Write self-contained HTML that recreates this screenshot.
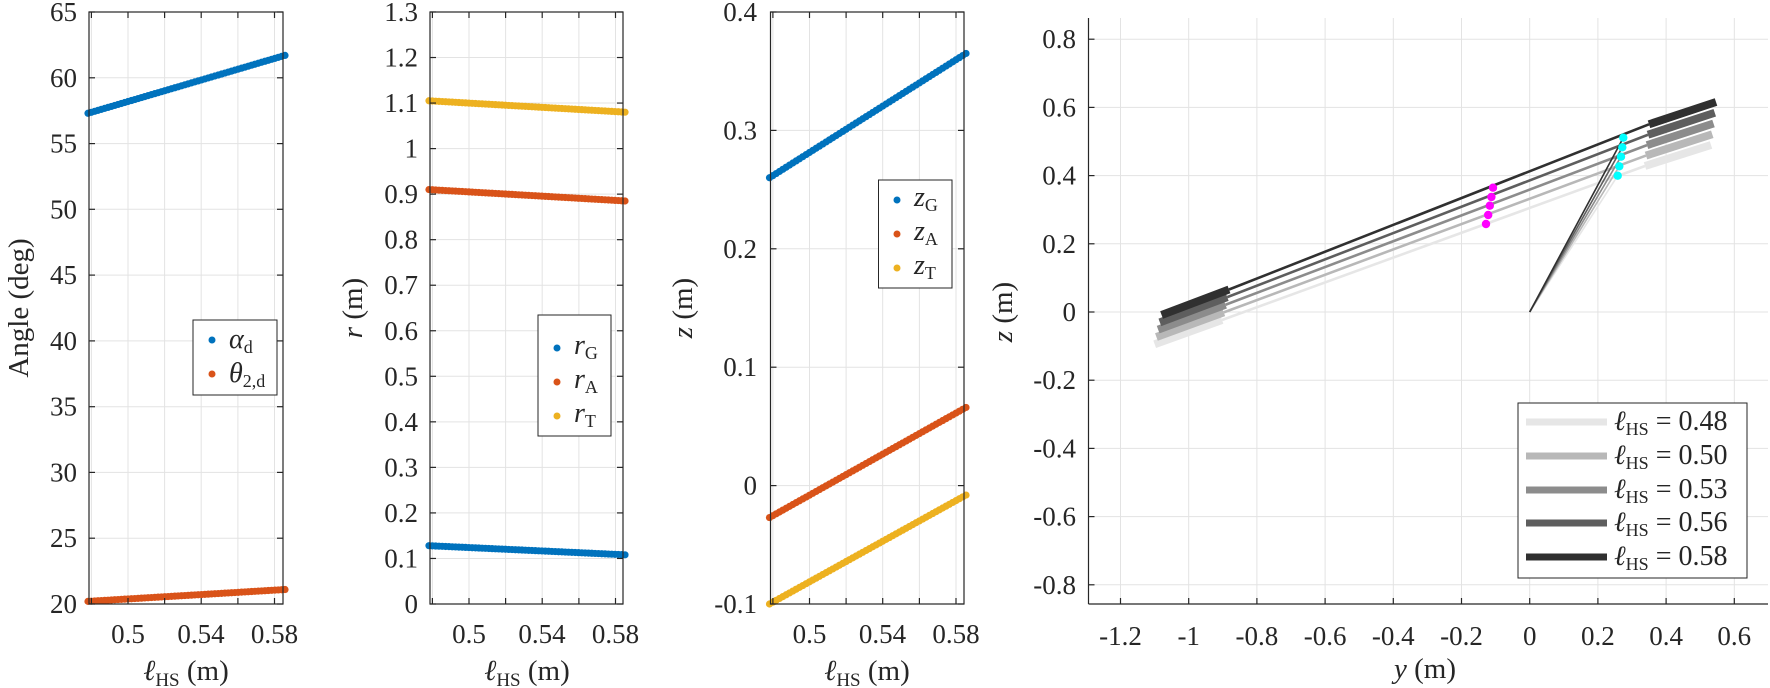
<!DOCTYPE html>
<html><head><meta charset="utf-8"><style>
html,body{margin:0;padding:0;background:#fff;}
svg{display:block;}
svg text, svg tspan{font-family:"Liberation Serif","DejaVu Serif","Times New Roman",serif !important;fill:#262626;}
</style></head><body>
<svg id="s" width="1770" height="688" viewBox="0 0 1770 688" xmlns="http://www.w3.org/2000/svg" font-family="Liberation Serif, DejaVu Serif, serif">
<g id="grid"></g>
<g id="data"></g>
<g id="axes" stroke="#262626" stroke-width="1.2" fill="none"></g>
<g font-size="27" text-anchor="end" dominant-baseline="central">
<text x="77" y="12">65</text><text x="77" y="77.8">60</text><text x="77" y="143.6">55</text><text x="77" y="209.3">50</text><text x="77" y="275.1">45</text><text x="77" y="340.9">40</text><text x="77" y="406.7">35</text><text x="77" y="472.4">30</text><text x="77" y="538.2">25</text><text x="77" y="604">20</text>
<text x="418" y="12">1.3</text><text x="418" y="57.5">1.2</text><text x="418" y="103.1">1.1</text><text x="418" y="148.6">1</text><text x="418" y="194.2">0.9</text><text x="418" y="239.7">0.8</text><text x="418" y="285.2">0.7</text><text x="418" y="330.8">0.6</text><text x="418" y="376.3">0.5</text><text x="418" y="421.8">0.4</text><text x="418" y="467.4">0.3</text><text x="418" y="512.9">0.2</text><text x="418" y="558.5">0.1</text><text x="418" y="604">0</text>
<text x="757" y="12">0.4</text><text x="757" y="130.4">0.3</text><text x="757" y="248.8">0.2</text><text x="757" y="367.2">0.1</text><text x="757" y="485.6">0</text><text x="757" y="604">-0.1</text>
<text x="1076" y="39.2">0.8</text><text x="1076" y="107.4">0.6</text><text x="1076" y="175.6">0.4</text><text x="1076" y="243.8">0.2</text><text x="1076" y="312">0</text><text x="1076" y="380.2">-0.2</text><text x="1076" y="448.4">-0.4</text><text x="1076" y="516.6">-0.6</text><text x="1076" y="584.8">-0.8</text>
</g>
<g font-size="27" text-anchor="middle" dominant-baseline="central">
<text x="128" y="634">0.5</text><text x="201" y="634">0.54</text><text x="274.5" y="634">0.58</text>
<text x="469" y="634">0.5</text><text x="542" y="634">0.54</text><text x="615.5" y="634">0.58</text>
<text x="809.5" y="634">0.5</text><text x="882.5" y="634">0.54</text><text x="956" y="634">0.58</text>
<text x="1120.5" y="636">-1.2</text><text x="1188.7" y="636">-1</text><text x="1256.9" y="636">-0.8</text><text x="1325.1" y="636">-0.6</text><text x="1393.3" y="636">-0.4</text><text x="1461.5" y="636">-0.2</text><text x="1529.7" y="636">0</text><text x="1597.9" y="636">0.2</text><text x="1666.1" y="636">0.4</text><text x="1734.3" y="636">0.6</text>
</g>
<g font-size="29" text-anchor="middle">
<text x="186" y="680"><tspan font-style="italic">ℓ</tspan><tspan font-size="19" dy="6">HS</tspan><tspan dy="-6"> (m)</tspan></text>
<text x="527" y="680"><tspan font-style="italic">ℓ</tspan><tspan font-size="19" dy="6">HS</tspan><tspan dy="-6"> (m)</tspan></text>
<text x="867" y="680"><tspan font-style="italic">ℓ</tspan><tspan font-size="19" dy="6">HS</tspan><tspan dy="-6"> (m)</tspan></text>
<text x="1425" y="678"><tspan font-style="italic">y</tspan> (m)</text>
<text transform="translate(28,308) rotate(-90)">Angle (deg)</text>
<text transform="translate(362,308) rotate(-90)"><tspan font-style="italic">r</tspan> (m)</text>
<text transform="translate(692,308) rotate(-90)"><tspan font-style="italic">z</tspan> (m)</text>
<text transform="translate(1012,312) rotate(-90)"><tspan font-style="italic">z</tspan> (m)</text>
</g>
<g font-size="28">
<rect x="193" y="320" width="84" height="75" fill="#fff" stroke="#262626" stroke-width="1"/>
<circle cx="212" cy="340" r="3.5" fill="#0072BD"/><circle cx="212" cy="374" r="3.5" fill="#D95319"/>
<text x="229" y="348"><tspan font-style="italic">α</tspan><tspan font-size="18" dy="5">d</tspan></text>
<text x="229" y="382"><tspan font-style="italic">θ</tspan><tspan font-size="18" dy="5">2,d</tspan></text>

<rect x="538" y="315" width="73" height="121" fill="#fff" stroke="#262626" stroke-width="1"/>
<circle cx="557" cy="348" r="3.5" fill="#0072BD"/><circle cx="557" cy="382" r="3.5" fill="#D95319"/><circle cx="557" cy="416" r="3.5" fill="#EDB120"/>
<text x="574" y="354"><tspan font-style="italic">r</tspan><tspan font-size="18" dy="5">G</tspan></text>
<text x="574" y="388"><tspan font-style="italic">r</tspan><tspan font-size="18" dy="5">A</tspan></text>
<text x="574" y="422"><tspan font-style="italic">r</tspan><tspan font-size="18" dy="5">T</tspan></text>

<rect x="878.5" y="180" width="73.5" height="108" fill="#fff" stroke="#262626" stroke-width="1"/>
<circle cx="897" cy="200" r="3.5" fill="#0072BD"/><circle cx="897" cy="234" r="3.5" fill="#D95319"/><circle cx="897" cy="268" r="3.5" fill="#EDB120"/>
<text x="914" y="206"><tspan font-style="italic">z</tspan><tspan font-size="18" dy="5">G</tspan></text>
<text x="914" y="240"><tspan font-style="italic">z</tspan><tspan font-size="18" dy="5">A</tspan></text>
<text x="914" y="274"><tspan font-style="italic">z</tspan><tspan font-size="18" dy="5">T</tspan></text>

<rect x="1518" y="403" width="229" height="175" fill="#fff" stroke="#262626" stroke-width="1"/>
<line x1="1526" x2="1607" y1="422" y2="422" stroke="#e6e6e6" stroke-width="7"/>
<line x1="1526" x2="1607" y1="456" y2="456" stroke="#b8b8b8" stroke-width="7"/>
<line x1="1526" x2="1607" y1="490" y2="490" stroke="#8c8c8c" stroke-width="7"/>
<line x1="1526" x2="1607" y1="523" y2="523" stroke="#5e5e5e" stroke-width="7"/>
<line x1="1526" x2="1607" y1="557" y2="557" stroke="#303030" stroke-width="7"/>
<text x="1614" y="430"><tspan font-style="italic">ℓ</tspan><tspan font-size="18" dy="5">HS</tspan><tspan dy="-5"> = 0.48</tspan></text>
<text x="1614" y="464"><tspan font-style="italic">ℓ</tspan><tspan font-size="18" dy="5">HS</tspan><tspan dy="-5"> = 0.50</tspan></text>
<text x="1614" y="498"><tspan font-style="italic">ℓ</tspan><tspan font-size="18" dy="5">HS</tspan><tspan dy="-5"> = 0.53</tspan></text>
<text x="1614" y="531"><tspan font-style="italic">ℓ</tspan><tspan font-size="18" dy="5">HS</tspan><tspan dy="-5"> = 0.56</tspan></text>
<text x="1614" y="565"><tspan font-style="italic">ℓ</tspan><tspan font-size="18" dy="5">HS</tspan><tspan dy="-5"> = 0.58</tspan></text>
</g>
</svg>
<script>
var NS="http://www.w3.org/2000/svg";
function el(p,t,a){var e=document.createElementNS(NS,t);for(var k in a)e.setAttribute(k,a[k]);document.getElementById(p).appendChild(e);return e;}
var T=12,B=604;
var panels=[{L:89,R:283,ys:[604,538.2,472.4,406.7,340.9,275.1,209.3,143.6,77.8,12]},
{L:430,R:623,ys:[]},{L:770.5,R:964,ys:[]}];
for(var v=0;v<=13;v++)panels[1].ys.push(604-v*45.54);
for(var v=0;v<=5;v++)panels[2].ys.push(604-v*118.4);
var gx=[2.4,39,75.6,112.2,148.9,185.5];
panels.forEach(function(p){
 p.ys.forEach(function(y){el("grid","line",{x1:p.L,x2:p.R,y1:y,y2:y,stroke:"#e3e3e3","stroke-width":1});
  el("axes","line",{x1:p.L,x2:p.L+6,y1:y,y2:y});el("axes","line",{x1:p.R,x2:p.R-6,y1:y,y2:y});});
 gx.forEach(function(o){var x=p.L+o;el("grid","line",{x1:x,x2:x,y1:T,y2:B,stroke:"#e3e3e3","stroke-width":1});
  el("axes","line",{x1:x,x2:x,y1:B,y2:B-6});el("axes","line",{x1:x,x2:x,y1:T,y2:T+6});});
 el("axes","rect",{x:p.L,y:T,width:p.R-p.L,height:B-T});
});
function series(p,ymap,a,b,c,col){
 var n=60;for(var i=0;i<n;i++){var t=i/(n-1);var x=p.L-1+t*(p.R-p.L+3);var v=a+(b-a)*t+(c||0)*t*(1-t);
 el("data","circle",{cx:x,cy:ymap(v),r:3.6,fill:col});}
}
var m1=function(v){return 604-(v-20)*13.156;},m2=function(v){return 604-v*455.4;},m3=function(v){return 604-(v+0.1)*1184;};
series(panels[0],m1,57.3,61.7,0,"#0072BD");series(panels[0],m1,20.2,21.1,0,"#D95319");
series(panels[1],m2,1.105,1.08,0,"#EDB120");series(panels[1],m2,0.91,0.885,0,"#D95319");series(panels[1],m2,0.128,0.108,0,"#0072BD");
series(panels[2],m3,0.26,0.365,0,"#0072BD");series(panels[2],m3,-0.027,0.066,0,"#D95319");series(panels[2],m3,-0.1,-0.008,0,"#EDB120");
var L4=1088.5,R4=1768,T4=18,B4=604;
var X=function(y){return 1529.7+341*y;},Z=function(z){return 312-341*z;};
for(var k=-4;k<=4;k++){var y=Z(k*0.2);el("grid","line",{x1:L4,x2:R4,y1:y,y2:y,stroke:"#e3e3e3","stroke-width":1});el("axes","line",{x1:L4,x2:L4+6,y1:y,y2:y});}
for(var k=-6;k<=3;k++){var x=X(k*0.2);el("grid","line",{x1:x,x2:x,y1:T4,y2:B4,stroke:"#e3e3e3","stroke-width":1});el("axes","line",{x1:x,x2:x,y1:B4,y2:B4-6});}
el("axes","line",{x1:L4,x2:L4,y1:T4,y2:B4});el("axes","line",{x1:L4,x2:R4,y1:B4,y2:B4});
var cols=["#e6e6e6","#b8b8b8","#8c8c8c","#5e5e5e","#303030"];
var cy=[[1617.7,175.7],[1619.3,166.3],[1621,156.7],[1622.3,147.3],[1623.3,137.7]];
var mg=[[1486,224],[1488.2,215],[1489.8,205.7],[1491.4,197],[1493,187.7]];
function lerp(a,b,t){return a+(b-a)*t;}
for(var i=0;i<5;i++){var t=i/4,c=cols[i];
 var lx1=lerp(1154.7,1161.6,t),ly1=lerp(344.3,315,t),lx2=lerp(1222,1229,t),ly2=lerp(320,289.5,t);
 var rx1=lerp(1645,1649,t),ry1=lerp(166,124.3,t),rx2=lerp(1711,1716,t),ry2=lerp(145,102,t);
 el("data","line",{x1:lx2,y1:ly2,x2:rx1,y2:ry1,stroke:c,"stroke-width":2.6});
 el("data","line",{x1:lx1,y1:ly1,x2:lx2,y2:ly2,stroke:c,"stroke-width":8});
 el("data","line",{x1:rx1,y1:ry1,x2:rx2,y2:ry2,stroke:c,"stroke-width":8});
 el("data","line",{x1:1529.7,y1:312,x2:cy[i][0],y2:cy[i][1],stroke:c,"stroke-width":1.6});
}
for(var i=0;i<5;i++){el("data","circle",{cx:cy[i][0],cy:cy[i][1],r:4.2,fill:"#00FFFF"});el("data","circle",{cx:mg[i][0],cy:mg[i][1],r:4.2,fill:"#FF00FF"});}
</script>
</body></html>
